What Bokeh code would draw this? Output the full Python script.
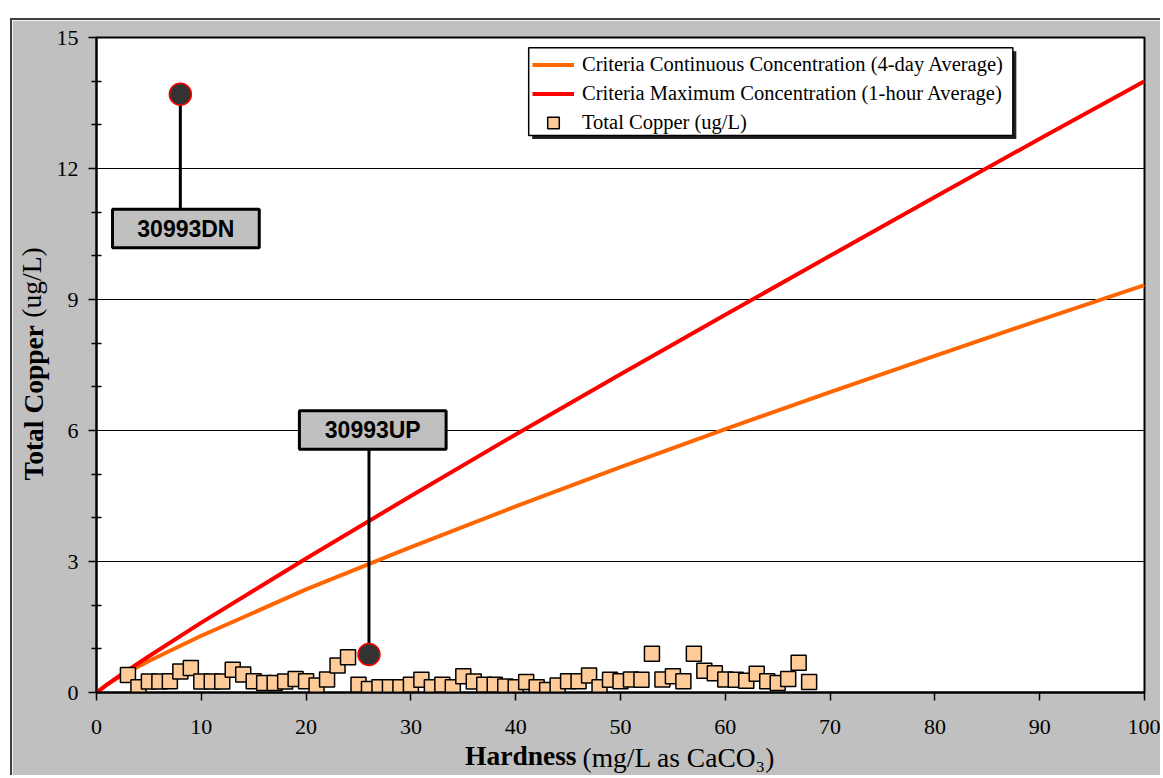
from bokeh.plotting import figure
from bokeh.models import (Range1d, Label, BoxAnnotation, Legend, LegendItem, FixedTicker,
                          LinearAxis, Spacer)
from bokeh.layouts import column, row
from bokeh.embed import file_html
from bokeh.resources import INLINE

# ---- data ----
hardness = [3, 4, 5, 6, 7, 8, 9, 10, 11, 12, 13, 14, 15, 16, 17, 18, 19, 20, 21, 22,
            23, 24, 25, 26, 27, 28, 29, 30, 31, 32, 33, 34, 35, 36, 37, 38, 39, 40, 41, 42,
            43, 44, 45, 46, 47, 48, 49, 50, 51, 52, 53, 54, 55, 56, 57, 58, 59, 60, 61, 62,
            63, 64, 65, 66, 67, 68]
copper = [0.40, 0.12, 0.25, 0.25, 0.26, 0.48, 0.56, 0.25, 0.25, 0.25, 0.52, 0.41, 0.26, 0.22, 0.22, 0.25, 0.31, 0.26, 0.16, 0.30,
          0.62, 0.81, 0.18, 0.08, 0.12, 0.12, 0.12, 0.18, 0.29, 0.12, 0.18, 0.12, 0.37, 0.25, 0.18, 0.18, 0.14, 0.12, 0.24, 0.12,
          0.06, 0.16, 0.26, 0.26, 0.39, 0.12, 0.29, 0.26, 0.30, 0.29, 0.89, 0.30, 0.37, 0.26, 0.89, 0.50, 0.44, 0.30, 0.29, 0.27,
          0.43, 0.26, 0.22, 0.31, 0.68, 0.24]

curve_hardness = [0, 1, 2, 3, 5, 10, 20, 30, 40, 50, 60, 70, 80, 90, 100]
ccc = [0, 0.18, 0.33, 0.47, 0.72, 1.30, 2.36, 3.33, 4.26, 5.16, 6.03, 6.88, 7.71, 8.53, 9.33]
cmc = [0, 0.18, 0.35, 0.51, 0.83, 1.60, 3.07, 4.50, 5.91, 7.29, 8.65, 10.00, 11.35, 12.68, 14.00]

site_names = ["30993DN", "30993UP"]
site_x = [8, 26]
site_y = [13.7, 0.87]

x_ticks = [0, 10, 20, 30, 40, 50, 60, 70, 80, 90, 100]
y_ticks = [0, 3, 6, 9, 12, 15]
y_minor = [1, 2, 4, 5, 7, 8, 10, 11, 13, 14]

legend_labels = ["Criteria Continuous Concentration (4-day Average)",
                 "Criteria Maximum Concentration (1-hour Average)",
                 "Total Copper (ug/L)"]

x_title_bold, x_title_rest = "Hardness", "(mg/L as CaCO\u2083)"
y_title_bold, y_title_rest = "Total Copper", "(ug/L)"

# ---- layout (annotation positions, not data) ----
callout_box_cx = [8.53, 26.36]
callout_box_cy = [10.625, 6.01]
box_hw = 7.0
box_hh = 0.44

SERIF = "Liberation Serif"
SANS = "Liberation Sans"
GRAY = "#C0C0C0"
NB = "\u00a0"
TITLE_SIZE = "27.5px"

p = figure(width=1150, height=757, x_range=Range1d(0, 100), y_range=Range1d(0, 15),
           output_backend="svg", toolbar_location=None,
           min_border_left=83, min_border_right=18, min_border_top=17, min_border_bottom=85,
           background_fill_color="white", border_fill_color=GRAY)
p.styles = {"border-top": "2px solid #404040", "border-left": "2px solid #404040"}

p.outline_line_color = "black"
p.outline_line_width = 2

p.xgrid.visible = False
p.ygrid.ticker = FixedTicker(ticks=y_ticks)
p.ygrid.grid_line_color = "black"
p.ygrid.grid_line_width = 1
p.ygrid.grid_line_alpha = 1.0

for ax in (p.xaxis[0], p.yaxis[0]):
    ax.axis_line_color = "black"
    ax.axis_line_width = 2
    ax.major_tick_line_color = "black"
    ax.major_tick_line_width = 1.5
    ax.major_label_text_font = SERIF
    ax.major_label_text_font_size = "22px"
    ax.major_label_text_color = "black"
    ax.axis_label_text_font = SERIF
    ax.axis_label_text_font_size = TITLE_SIZE
    ax.axis_label_text_font_style = "bold"
    ax.axis_label_text_color = "black"

xa = p.xaxis[0]
xa.ticker = FixedTicker(ticks=x_ticks)
xa.major_tick_out = 8
xa.major_tick_in = 0
xa.minor_tick_line_color = None
xa.major_label_standoff = 19
xa.axis_label = x_title_bold + NB * 29
xa.axis_label_standoff = 3

ya = p.yaxis[0]
ya.ticker = FixedTicker(ticks=y_ticks, minor_ticks=y_minor)
ya.major_tick_out = 8
ya.major_tick_in = 0
ya.minor_tick_out = 5
ya.minor_tick_in = 5
ya.minor_tick_line_color = "black"
ya.minor_tick_line_width = 1.5
ya.major_label_standoff = 10
ya.axis_label = y_title_bold + NB * 11
ya.axis_label_standoff = 5


def title_axis(text, standoff):
    return LinearAxis(ticker=FixedTicker(ticks=[]), axis_line_color=None,
                      major_tick_line_color=None, minor_tick_line_color=None,
                      major_tick_out=0, major_tick_in=0, minor_tick_out=0, minor_tick_in=0,
                      major_label_standoff=0, major_label_text_font_size="0px",
                      axis_label=text, axis_label_standoff=standoff,
                      axis_label_text_font=SERIF, axis_label_text_font_size=TITLE_SIZE,
                      axis_label_text_font_style="normal", axis_label_text_color="black")


p.add_layout(title_axis(NB * 17 + x_title_rest, -32), "below")
p.add_layout(title_axis(NB * 24 + y_title_rest, -32), "left")

# criteria curves
r_ccc = p.line(curve_hardness, ccc, line_color="#FF6600", line_width=4)
r_cmc = p.line(curve_hardness, cmc, line_color="#FF0000", line_width=4)

# callout stems
stem_top = []
for i in range(len(site_x)):
    if callout_box_cy[i] < site_y[i]:
        stem_top.append(callout_box_cy[i] + box_hh)
    else:
        stem_top.append(callout_box_cy[i] - box_hh)
p.segment(x0=site_x, y0=site_y, x1=site_x, y1=stem_top, line_color="black", line_width=3)

# total copper squares
r_cu = p.scatter(hardness, copper, marker="square", size=15, fill_color="#FFCC99",
                 line_color="black", line_width=1.5)

# site circles
p.scatter(site_x, site_y, marker="circle", size=22, fill_color="#333333",
          line_color="#FF0000", line_width=1.5)

# callout boxes
for i, name in enumerate(site_names):
    p.add_layout(BoxAnnotation(left=callout_box_cx[i] - box_hw, right=callout_box_cx[i] + box_hw,
                               bottom=callout_box_cy[i] - box_hh, top=callout_box_cy[i] + box_hh,
                               fill_color=GRAY, fill_alpha=1.0, line_color="black", line_width=3,
                               line_alpha=1.0))
    p.add_layout(Label(x=callout_box_cx[i], y=callout_box_cy[i], text=name,
                       text_font=SANS, text_font_style="bold", text_font_size="23px",
                       text_align="center", text_baseline="middle", text_color="black"))

# legend frame with shadow
p.add_layout(BoxAnnotation(left=41.57, right=87.77, top=14.683, bottom=12.675,
                           fill_color="#222222", fill_alpha=1.0, line_alpha=0))
p.add_layout(BoxAnnotation(left=41.24, right=87.44, top=14.763, bottom=12.755,
                           fill_color="white", fill_alpha=1.0, line_color="black",
                           line_width=1.5, line_alpha=1.0))

legend = Legend(items=[LegendItem(label=legend_labels[0], renderers=[r_ccc]),
                       LegendItem(label=legend_labels[1], renderers=[r_cmc]),
                       LegendItem(label=legend_labels[2], renderers=[r_cu])],
                location=(436, 555), orientation="vertical",
                background_fill_alpha=0, border_line_color=None,
                padding=1, spacing=0, margin=0,
                glyph_width=42, glyph_height=29, label_standoff=8,
                label_text_font=SERIF, label_text_font_size="20.5px", label_text_color="black")
p.add_layout(legend, "center")

root = column(Spacer(height=18), row(Spacer(width=10), p))
open("out.html", "w").write(file_html(root, INLINE))
